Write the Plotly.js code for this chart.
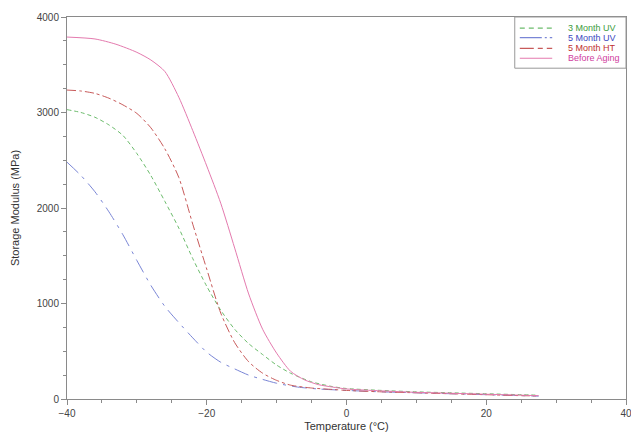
<!DOCTYPE html>
<html>
<head>
<meta charset="utf-8">
<script src="https://cdn.plot.ly/plotly-3.0.1.min.js"></script>
<style>html,body{margin:0;padding:0;background:#fff;}#chart{width:631px;height:435px;}</style>
</head>
<body>
<div id="chart"></div>
<script>
const tempUV3 = [-40, -38, -36, -34, -32, -30, -28, -26, -24, -22, -20, -18, -16, -14, -12, -10, -8, -5, -2, 0, 5, 10, 15, 20, 25, 27.5];
const valUV3  = [3030, 3000, 2950, 2870, 2760, 2570, 2340, 2070, 1790, 1470, 1180, 930, 730, 580, 465, 355, 270, 180, 130, 110, 90, 75, 65, 55, 45, 40];

const tempUV5 = [-40, -38, -36, -34, -32, -30, -28, -26, -24, -22, -20, -18, -16, -14, -12, -10, -7, -4, 0, 5, 10, 15, 20, 25, 27.5];
const valUV5  = [2480, 2340, 2170, 1960, 1720, 1450, 1190, 970, 800, 640, 490, 385, 315, 250, 205, 165, 125, 105, 90, 75, 65, 55, 45, 35, 30];

const tempHT5 = [-40, -38, -36, -34, -32, -30, -28, -26, -24, -22, -20, -18, -16, -14, -12, -10, -8, -5, -2, 0, 5, 10, 15, 20, 25, 27.5];
const valHT5  = [3235, 3225, 3200, 3150, 3080, 2990, 2840, 2620, 2320, 1830, 1360, 900, 590, 390, 270, 195, 145, 115, 100, 90, 75, 65, 55, 45, 35, 32];

const tempBefore = [-40, -36, -33, -30, -28, -26, -24, -22, -20, -18, -16, -14, -12, -10, -8, -6, -4, -2, 0, 5, 10, 15, 20, 25, 27.5];
const valBefore  = [3790, 3770, 3715, 3630, 3550, 3430, 3160, 2810, 2440, 2050, 1580, 1100, 730, 480, 290, 200, 150, 125, 105, 85, 70, 60, 50, 40, 35];

const seriesNames = ['3 Month UV', '5 Month UV', '5 Month HT', 'Before Aging'];
const textColors = ['#3c9c3c', '#3a48c0', '#c03030', '#d040a0'];
const lineColors = ['#6cbc6c', '#7a86d6', '#c85a5a', '#e47aae'];
const dashes = ['4px,3px', 'longdashdot', 'dashdot', 'solid'];
const legendDashes = ['5px,4px', '22px,3px,2px,3px', '14px,4px,5px,4px', 'solid'];
const xs = [tempUV3, tempUV5, tempHT5, tempBefore];
const ys = [valUV3, valUV5, valHT5, valBefore];

const data = seriesNames.map((n, i) => ({
  x: xs[i], y: ys[i], type: 'scatter', mode: 'lines', name: n, showlegend: false,
  line: {color: lineColors[i], width: 1, dash: dashes[i], shape: 'spline', smoothing: 0.7}
}));

// custom compact legend (paper coordinates)
const legX0 = 0.801, legX1 = 1.0, legY0 = 0.866, legY1 = 1.0;
const rowY = [0.971, 0.946, 0.918, 0.892];
const shapes = [{type: 'rect', xref: 'paper', yref: 'paper', x0: legX0, x1: legX1, y0: legY0, y1: legY1,
  line: {color: '#999', width: 1}, fillcolor: '#fff', layer: 'above'}];
const annotations = [];
seriesNames.forEach((n, i) => {
  shapes.push({type: 'line', xref: 'paper', yref: 'paper', x0: 0.810, x1: 0.868, y0: rowY[i], y1: rowY[i],
    line: {color: lineColors[i], width: 1.2, dash: legendDashes[i]}, layer: 'above'});
  annotations.push({xref: 'paper', yref: 'paper', x: 0.893, y: rowY[i], xanchor: 'left', yanchor: 'middle',
    text: n, showarrow: false, font: {family: 'Liberation Sans, Arial, sans-serif', size: 9, color: textColors[i]}});
});

const axisCommon = {
  showgrid: false, zeroline: false, showline: true, linecolor: '#8a8a8a', linewidth: 1,
  mirror: true, ticks: 'outside', ticklen: 5, tickcolor: '#8a8a8a', tickwidth: 1,
  ticklabeloverflow: 'allow',
  tickfont: {family: 'Liberation Sans, Arial, sans-serif', size: 10, color: '#444'}
};

const layout = {
  width: 631, height: 435,
  margin: {l: 67, r: 5, t: 17, b: 36},
  paper_bgcolor: '#fff', plot_bgcolor: '#fff',
  showlegend: false,
  shapes: shapes,
  annotations: annotations,
  xaxis: Object.assign({}, axisCommon, {
    range: [-40, 40], tickvals: [-40, -20, 0, 20, 40],
    minor: {dtick: 5, tick0: -40, ticks: 'outside', ticklen: 3, tickcolor: '#8a8a8a'},
    title: {text: 'Temperature (°C)', standoff: 4, font: {family: 'Liberation Sans, Arial, sans-serif', size: 11, color: '#333'}}
  }),
  yaxis: Object.assign({}, axisCommon, {
    range: [0, 4000], tickvals: [0, 1000, 2000, 3000, 4000],
    minor: {dtick: 250, tick0: 0, ticks: 'outside', ticklen: 3, tickcolor: '#8a8a8a'},
    title: {text: 'Storage Modulus (MPa)', standoff: 14, font: {family: 'Liberation Sans, Arial, sans-serif', size: 11, color: '#333'}}
  })
};

Plotly.newPlot('chart', data, layout, {displayModeBar: false, staticPlot: true});
</script>
</body>
</html>
